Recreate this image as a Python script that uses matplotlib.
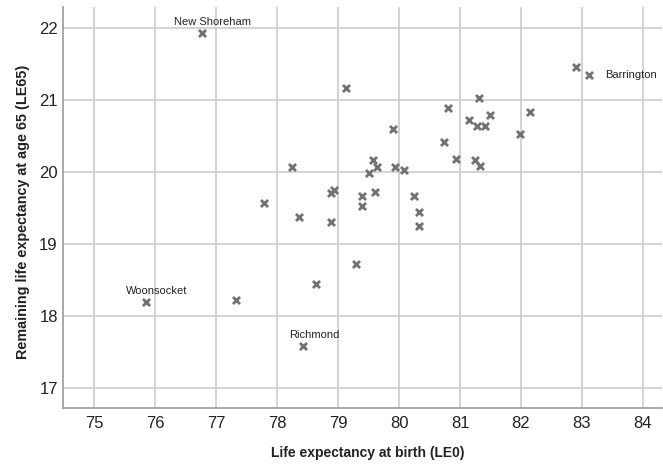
import matplotlib.pyplot as plt

plt.rcParams['font.family'] = ['Liberation Sans', 'DejaVu Sans']

# life expectancy at birth (LE0) and remaining at 65 (LE65), one per town
le0 = [76.76, 79.13, 78.25, 77.78, 78.36, 78.88, 78.89, 78.93, 79.39, 79.39,
       79.57, 79.63, 79.51, 79.60, 79.90, 79.93, 80.08, 80.25, 80.33, 80.33,
       80.74, 80.93, 80.81, 81.15, 81.31, 81.28, 81.41, 81.49, 81.24, 81.33,
       81.98, 82.15, 82.91, 83.11, 75.84, 77.32, 78.64, 79.30, 78.43]
le65 = [21.92, 21.16, 20.07, 19.57, 19.38, 19.31, 19.71, 19.75, 19.67, 19.53,
        20.17, 20.07, 19.98, 19.72, 20.59, 20.07, 20.02, 19.66, 19.45, 19.25,
        20.41, 20.18, 20.88, 20.72, 21.02, 20.64, 20.64, 20.79, 20.16, 20.08,
        20.52, 20.83, 21.46, 21.34, 18.19, 18.22, 18.44, 18.73, 17.59]

# labelled towns: name, x, y
towns = ['New Shoreham', 'Woonsocket', 'Richmond', 'Barrington']
town_x = [76.76, 75.84, 78.43, 83.11]
town_y = [21.92, 18.19, 17.59, 21.34]

xticks = [75, 76, 77, 78, 79, 80, 81, 82, 83, 84]
yticks = [17, 18, 19, 20, 21, 22]

fig = plt.figure(figsize=(6.63, 4.65), dpi=100)
ax = fig.add_axes([0.0955, 0.123, 0.9035, 0.861])

ax.scatter(le0, le65, marker='x', s=26, linewidths=2, color='#727272', zorder=3)

for name, x, y in zip(towns, town_x, town_y):
    if name == 'Barrington':
        ax.annotate(name, (x, y), xytext=(12, 0), textcoords='offset points',
                    ha='left', va='center', fontsize=8, color='#222222')
    else:
        ax.annotate(name, (x, y), xytext=(8, 4.5), textcoords='offset points',
                    ha='center', va='bottom', fontsize=8, color='#222222')

ax.set_xlim(74.49, 84.32)
ax.set_ylim(16.73, 22.28)
ax.set_xticks(xticks)
ax.set_yticks(yticks)
ax.grid(True, color='#cccccc', linewidth=1.2)
ax.set_axisbelow(True)
ax.tick_params(length=0, labelsize=12, colors='#222222')
ax.tick_params(axis='x', pad=6)
ax.tick_params(axis='y', pad=4)

for side in ['top', 'right']:
    ax.spines[side].set_visible(False)
for side in ['left', 'bottom']:
    ax.spines[side].set_color('#999999')
    ax.spines[side].set_linewidth(1.2)

ax.set_xlabel('Life expectancy at birth (LE0)', fontsize=10, fontweight='bold',
              color='#222222')
ax.set_ylabel('Remaining life expectancy at age 65 (LE65)', fontsize=10.4,
              fontweight='bold', color='#222222')
ax.xaxis.set_label_coords(0.509, -0.096)
ax.yaxis.set_label_coords(-0.055, 0.489)

fig.savefig('out.png', dpi=100)
